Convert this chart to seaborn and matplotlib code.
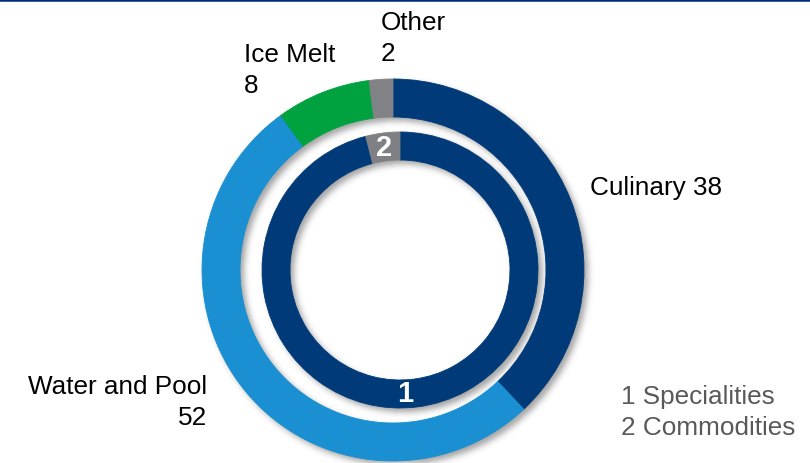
import numpy as np
import matplotlib
matplotlib.use("Agg")
import matplotlib.pyplot as plt
import seaborn as sns

# Sales split by segment (outer ring) and by product type (inner ring)
outer_labels = ["Culinary", "Water and Pool", "Ice Melt", "Other"]
outer_values = [38, 52, 8, 2]
outer_colors = ["#003A78", "#1A8FD1", "#00A23F", "#808285"]

inner_labels = ["Specialities", "Commodities"]
inner_values = [96, 4]
inner_colors = ["#003A78", "#7F8083"]

sns.set_theme(style="white")
plt.rcParams["font.family"] = ["Liberation Sans", "DejaVu Sans"]

W, H = 810, 464
fig = plt.figure(figsize=(W / 100, H / 100), dpi=100)
ax = fig.add_axes([0, 0, 1, 1])

# ring geometry in pixel units (y measured upward)
outer_c, outer_r, outer_w = (393, 193), 191, 38
inner_c, inner_r, inner_w = (400, 193), 138, 28

# soft drop shadow under both rings
yy, xx = np.mgrid[0:H, 0:W] + 0.5
def ring_mask(c, r, w, dx, dy):
    d = np.hypot(xx - dx - c[0], (H - yy) + dy - c[1])
    return ((d <= r) & (d >= r - w)).astype(float)

mask = np.clip(ring_mask(outer_c, outer_r, outer_w, 4, 4)
               + ring_mask(inner_c, inner_r, inner_w, 4, 4), 0, 1)
k = np.arange(-10, 11)
g = np.exp(-k**2 / (2 * 3.2**2)); g /= g.sum()
blur = np.apply_along_axis(lambda v: np.convolve(v, g, mode="same"), 1, mask)
blur = np.apply_along_axis(lambda v: np.convolve(v, g, mode="same"), 0, blur)
shadow = np.zeros((H, W, 4))
shadow[..., :3] = 0.35
shadow[..., 3] = blur * 0.55
ax.imshow(shadow, extent=(0, W, 0, H), origin="upper", zorder=0,
          interpolation="bilinear")

ax.pie(outer_values, radius=outer_r, center=outer_c, startangle=90,
       counterclock=False, colors=outer_colors,
       wedgeprops=dict(width=outer_w, linewidth=0.6))
for w, col in zip(ax.patches[-len(outer_values):], outer_colors):
    w.set_edgecolor(col)

wedges, texts = ax.pie(inner_values, radius=inner_r, center=inner_c, startangle=90,
                       counterclock=False, colors=inner_colors,
                       labels=[str(i + 1) for i in range(len(inner_values))],
                       labeldistance=(inner_r - inner_w / 2) / inner_r,
                       wedgeprops=dict(width=inner_w, linewidth=0.6),
                       textprops=dict(color="white", fontsize=21, fontweight="bold",
                                      ha="center", va="center"))
for w, col in zip(wedges, inner_colors):
    w.set_edgecolor(col)
texts[0].set_x(texts[0].get_position()[0] - 10)

ax.set_xlim(0, W)
ax.set_ylim(0, H)
ax.set_aspect("equal")
ax.axis("off")

fs = 18.8
ls = 1.42
ax.text(590, H - 188, f"{outer_labels[0]} {outer_values[0]}", fontsize=fs,
        ha="left", va="center", color="black")
ax.text(207, H - 402.5, f"{outer_labels[1]}\n{outer_values[1]}", fontsize=fs,
        ha="right", va="center", color="black", multialignment="right",
        linespacing=ls)
ax.text(244, H - 70.5, f"{outer_labels[2]}\n{outer_values[2]}", fontsize=fs,
        ha="left", va="center", color="black", linespacing=ls)
ax.text(381, H - 38.5, f"{outer_labels[3]}\n{outer_values[3]}", fontsize=fs,
        ha="left", va="center", color="black", linespacing=ls)

legend_text = "\n".join(f"{i + 1} {lab}" for i, lab in enumerate(inner_labels))
ax.text(621, H - 412.5, legend_text, fontsize=fs, ha="left", va="center",
        color="#595959", linespacing=ls)

# thin rule along the top edge
ax.axhline(H - 1.2, color="#002B7F", lw=1.8, zorder=5)

fig.savefig("out.png", dpi=100, facecolor="white")
